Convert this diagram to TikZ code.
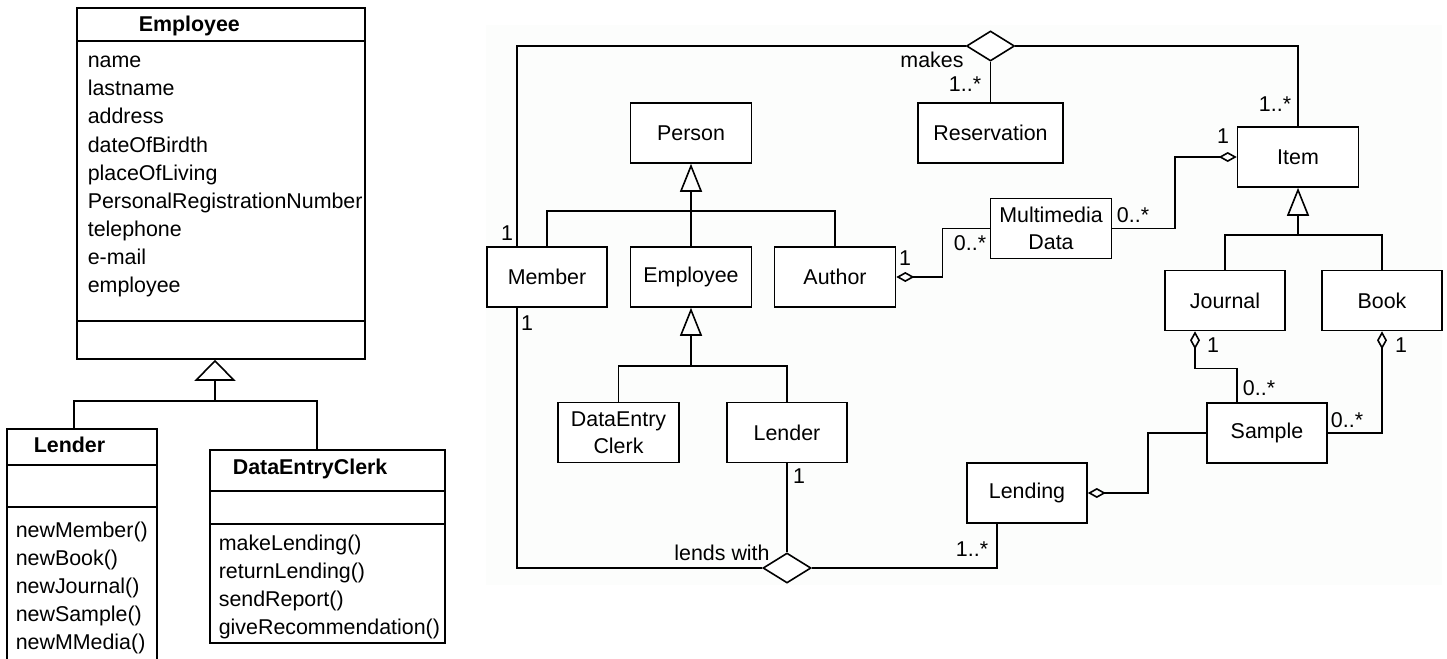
\documentclass[tikz,border=0pt]{standalone}
\usepackage{fontspec}
\setmainfont{Liberation Sans}
\usepackage{tikz}
\usetikzlibrary{arrows.meta,shapes.geometric}

\definecolor{panel}{RGB}{252,253,252}

\tikzset{
  umlbox/.style={draw, fill=white, minimum width=121, minimum height=60, inner sep=2pt, align=center},
  hdr/.style={anchor=base west, inner sep=0, font=\fontsize{21.4}{27}\selectfont\bfseries},
  attr/.style={anchor=base west, inner sep=0},
  mult/.style={anchor=base, inner sep=0},
  assoc/.style={draw, diamond, fill=white, minimum width=48, minimum height=30, inner sep=0},
  gen/.style={-{Triangle[open, width=22pt, length=28pt]}},
  biggen/.style={-{Triangle[open, width=41pt, length=21pt]}},
  agg/.style={{Diamond[open, length=18pt, width=10pt]}-},
}

\begin{document}
\begin{tikzpicture}[x=1pt, y=-1pt, line width=1.6pt, font=\fontsize{21.4}{27}\selectfont]
\useasboundingbox (0,0) rectangle (1447,658);
\clip (0,0) rectangle (1447,658);
\fill[panel] (486,25) rectangle (1442,585);

% left: Employee class and its subclasses
\node[umlbox, minimum width=288, minimum height=351] (leftemp) at (221,183.5) {};
\draw ([yshift=-34]leftemp.north west) -- ([yshift=-34]leftemp.north east);
\draw ([yshift=39]leftemp.south west) -- ([yshift=39]leftemp.south east);
\node[hdr] (leftemphdr) at (138,32) {Employee};
\foreach \a [count=\i] in {name,lastname,address,dateOfBirdth,placeOfLiving,PersonalRegistrationNumber,telephone,e-mail,employee}
  \node[attr] (leftempa\i) at (87,40+28*\i) {\a};

\node[umlbox, minimum width=150, minimum height=241] (leftlend) at (82,549.5) {};
\draw ([yshift=-37]leftlend.north west) -- ([yshift=-37]leftlend.north east);
\draw ([yshift=-79]leftlend.north west) -- ([yshift=-79]leftlend.north east);
\node[hdr] (leftlendhdr) at (33,452) {Lender};
\foreach \m [count=\i] in {newMember(),newBook(),newJournal(),newSample(),newMMedia()}
  \node[attr] (leftlendm\i) at (15,509+28*\i) {\m};

\node[umlbox, minimum width=235, minimum height=193] (leftclerk) at (327.5,546.5) {};
\draw ([yshift=-42]leftclerk.north west) -- ([yshift=-42]leftclerk.north east);
\draw ([yshift=-75]leftclerk.north west) -- ([yshift=-75]leftclerk.north east);
\node[hdr] (leftclerkhdr) at (232,474) {DataEntryClerk};
\foreach \m [count=\i] in {makeLending(),returnLending(),sendReport(),giveRecommendation()}
  \node[attr] (leftclerkm\i) at (218,522+28*\i) {\m};

\coordinate (leftjoin) at (215,401);
\draw[biggen] (leftjoin) -- ([xshift=-6]leftemp.south);
\draw ([xshift=-8]leftlend.north) |- (leftjoin) -| ([xshift=-10.5]leftclerk.north);

% right: library class diagram
\node[umlbox] (person) at (691,133) {Person};
\node[umlbox, minimum width=145] (reserv) at (990.5,133) {Reservation};
\node[umlbox] (item) at (1298,157) {Item};
\node[umlbox, minimum width=120] (member) at (547,277) {Member};
\node[umlbox] (employee) at (691,277) {Employee};
\node[umlbox] (author) at (835,277) {Author};
\node[umlbox] (media) at (1051,228.5) {Multimedia\\Data};
\node[umlbox, minimum width=120] (journal) at (1225,300.5) {Journal};
\node[umlbox, minimum width=120] (book) at (1382,300.5) {Book};
\node[umlbox] (clerk) at (618.5,432.5) {DataEntry\\Clerk};
\node[umlbox, minimum width=120] (lender) at (787,432.5) {Lender};
\node[umlbox, minimum width=120] (sample) at (1267,433) {Sample};
\node[umlbox, minimum width=120] (lending) at (1027,493) {Lending};

\node[assoc] (makes) at (990.5,46) {};
\node[assoc] (lendswith) at (787,568) {};

% generalisations
\coordinate (personjoin) at (691,211);
\draw[gen] (employee.north) -- (person.south);
\draw (member.north) |- (personjoin) -| (author.north);
\coordinate (employeejoin) at (691,366);
\draw[gen] (employeejoin) -- (employee.south);
\draw (clerk.north) |- (employeejoin) -| (lender.north);
\coordinate (itemjoin) at (1298,235);
\draw[gen] (itemjoin) -- (item.south);
\draw (journal.north) |- (itemjoin) -| (book.north);

% associations
\draw ([xshift=-30]member.north) |- (makes.west);
\draw (makes.south) -- (reserv.north);
\draw (makes.east) -| (item.north);
\draw ([xshift=-30]member.south) |- (lendswith.west);
\draw (lender.south) -- (lendswith.north);
\draw (lendswith.east) -| ([xshift=-30]lending.south);

% aggregations
\draw[agg] (author.east) -- ++(46,0) |- (media.west);
\draw[agg] (item.west) -- ++(-62,0) |- (media.east);
\draw[agg] ([xshift=-30]journal.south) -- ++(0,37) -| ([xshift=-30]sample.north);
\draw[agg] (book.south) |- (sample.east);
\draw[agg] (lending.east) -- ++(60,0) |- (sample.west);

% labels
\node[mult] (makeslbl) at (932,68) {makes};
\node[mult] (lendslbl) at (722,560) {lends with};
\node[mult] (m1) at (965,92) {1..*};
\node[mult] (m2) at (1275,112) {1..*};
\node[mult] (m3) at (1223,143) {1};
\node[mult] (m4) at (507,240) {1};
\node[mult] (m5) at (527,330) {1};
\node[mult] (m6) at (905,265) {1};
\node[mult] (m7) at (970,250) {0..*};
\node[mult] (m8) at (1133,222) {0..*};
\node[mult] (m9) at (1213,352) {1};
\node[mult] (m10) at (1401,352) {1};
\node[mult] (m11) at (1259,395) {0..*};
\node[mult] (m12) at (1347,427) {0..*};
\node[mult] (m13) at (972,556) {1..*};
\node[mult] (m14) at (799,483) {1};
\end{tikzpicture}
\end{document}
